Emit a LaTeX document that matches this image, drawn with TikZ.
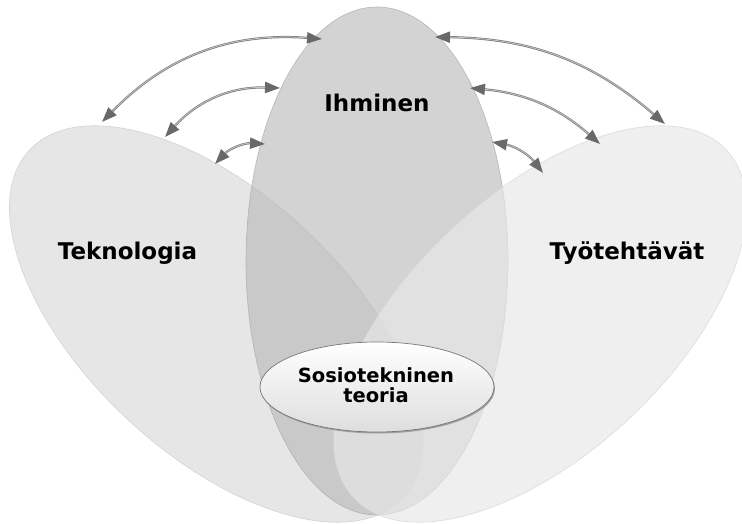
\documentclass[tikz,border=0pt]{standalone}
\usepackage{fontspec}
\setmainfont{DejaVu Sans}
\usetikzlibrary{arrows.meta}

\definecolor{lobeL}{RGB}{230,230,230}
\definecolor{lobeLedge}{RGB}{212,212,212}
\definecolor{lobeM}{RGB}{184,184,184}
\definecolor{lobeMedge}{RGB}{165,165,165}
\definecolor{lobeR}{RGB}{232,232,232}
\definecolor{lobeRedge}{RGB}{210,210,210}
\definecolor{shaft}{RGB}{125,125,125}
\definecolor{shaftlight}{RGB}{200,200,200}
\definecolor{headgray}{RGB}{105,105,105}
\definecolor{coreedge}{RGB}{95,95,95}

\begin{document}
\begin{tikzpicture}[x=1pt,y=-1pt,
  lbl/.style={font=\bfseries\fontsize{23}{27}\selectfont, text=black, inner sep=0pt},
  coretext/.style={font=\bfseries\fontsize{19.5}{19.5}\selectfont, align=center, text=black, inner sep=0pt},
  link/.style={draw=shaft, line width=2.2pt,
    {Triangle[length=15pt,width=11pt,fill=headgray,color=headgray]}-{Triangle[length=15pt,width=11pt,fill=headgray,color=headgray]}},
  linkcore/.style={draw=shaftlight, line width=0.7pt, shorten <=15pt, shorten >=15pt},
]
\useasboundingbox (0,0) rectangle (742,524);
\clip (0,0) rectangle (742,524);
\fill[white] (0,0) rectangle (742,524);

% three overlapping lobes
\filldraw[fill=lobeL, draw=lobeLedge, line width=0.6pt,
  rotate around={-43:(216,324)}] (216,324) ellipse [x radius=255, y radius=130];
\filldraw[fill=lobeM, fill opacity=0.62, draw=lobeMedge, draw opacity=0.7, line width=0.6pt]
  (377,261) ellipse [x radius=131, y radius=254];
\filldraw[fill=lobeR, fill opacity=0.67, draw=lobeRedge, draw opacity=0.7, line width=0.6pt,
  rotate around={43:(540,324)}] (540,324) ellipse [x radius=255, y radius=130];

% central theory ellipse with a slight shadow
\fill[coreedge!60] (378,388.5) ellipse [x radius=117, y radius=45];
\shade[top color=white, bottom color=black!13, draw=coreedge!85, line width=0.7pt]
  (377,387) ellipse [x radius=117, y radius=45];

% arrow end points
\coordinate (a1s) at (102,122);
\coordinate (a1e) at (322,39);
\coordinate (a2s) at (165,137);
\coordinate (a2e) at (280,88);
\coordinate (a3s) at (215,164);
\coordinate (a3e) at (265,144);
\coordinate (b1s) at (435,37);
\coordinate (b1e) at (665,124);
\coordinate (b2s) at (470,88);
\coordinate (b2e) at (600,144);
\coordinate (b3s) at (492,142);
\coordinate (b3e) at (543,173);

% two-way links between the lobes
\draw[link] (a1s) to[bend left=25] (a1e);
\draw[linkcore] (a1s) to[bend left=25] (a1e);
\draw[link] (a2s) to[bend left=25] (a2e);
\draw[linkcore] (a2s) to[bend left=25] (a2e);
\draw[link] (a3s) to[bend left=25] (a3e);
\draw[linkcore] (a3s) to[bend left=25] (a3e);
\draw[link] (b1s) to[bend left=20] (b1e);
\draw[linkcore] (b1s) to[bend left=20] (b1e);
\draw[link] (b2s) to[bend left=18] (b2e);
\draw[linkcore] (b2s) to[bend left=18] (b2e);
\draw[link] (b3s) to[bend left=21] (b3e);
\draw[linkcore] (b3s) to[bend left=21] (b3e);

% labels
\node[lbl, anchor=base] (tek) at (127.5,259) {Teknologia};
\node[lbl, anchor=base] (tyo) at (627,259) {Työtehtävät};
\node[lbl, anchor=base] (ihm) at (377,112) {Ihminen};
\node[coretext] (sos) at (376,385) {Sosiotekninen\\teoria};
\end{tikzpicture}
\end{document}
